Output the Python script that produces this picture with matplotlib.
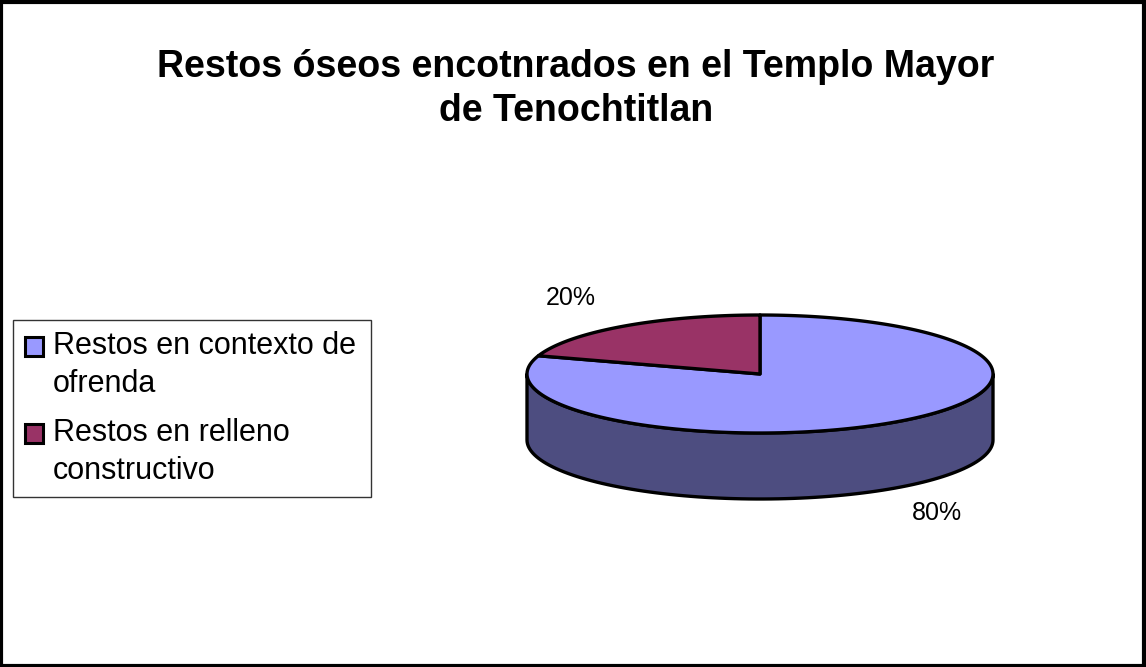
import matplotlib.pyplot as plt
import numpy as np
from matplotlib.patches import Polygon, Rectangle

title = "Restos óseos encotnrados en el Templo Mayor\nde Tenochtitlan"
labels = ["Restos en contexto de\nofrenda", "Restos en relleno\nconstructivo"]
values = [80, 20]
pct_labels = ["80%", "20%"]
top_colors = ["#9999FF", "#993366"]
side_colors = ["#4D4D80", "#4D1A33"]

plt.rcParams['font.family'] = ['Liberation Sans', 'DejaVu Sans']

fig = plt.figure(figsize=(11.46, 6.67), dpi=100)
ax = fig.add_axes([0, 0, 1, 1])
ax.set_xlim(0, 1146)
ax.set_ylim(667, 0)
ax.axis('off')

# pie geometry (pixels)
cx, cy = 760, 374
rx, ry = 233, 59
depth = 66


def ell(a):
	a = np.radians(a)
	return cx + rx * np.cos(a), cy - ry * np.sin(a)


# slices go clockwise from 12 o'clock, the last one (red) ends at 90 deg
fracs = np.array(values) / sum(values)
start = 90.0
angles = []
for f in fracs:
	end = start - 360 * f
	angles.append((end, start))
	start = end

# side walls: visible front part is angles 180..360
for (a0, a1), col in zip(angles, side_colors):
	for k in range(-1, 2):
		lo = max(a0, 180 + 360 * k)
		hi = min(a1, 360 + 360 * k)
		if hi <= lo:
			continue
		t = np.linspace(lo, hi, 100)
		xs, ys = ell(t)
		pts = np.concatenate([np.column_stack([xs, ys]),
			np.column_stack([xs[::-1], ys[::-1] + depth])])
		ax.add_patch(Polygon(pts, closed=True, facecolor=col,
			edgecolor='black', linewidth=2.4, joinstyle='round'))

# top faces
for (a0, a1), col in zip(angles, top_colors):
	t = np.linspace(a0, a1, 200)
	xs, ys = ell(t)
	pts = np.vstack([[cx, cy], np.column_stack([xs, ys])])
	ax.add_patch(Polygon(pts, closed=True, facecolor=col,
		edgecolor='black', linewidth=2.4, joinstyle='round'))

# percentage labels
ax.text(937, 513, pct_labels[0], fontsize=18, ha='center', va='center')
ax.text(571, 298, pct_labels[1], fontsize=18, ha='center', va='center')

ax.text(576, 89, title, fontsize=27, fontweight='bold', ha='center',
	va='center', linespacing=1.3)

# legend, drawn by hand so the key sits beside the first line of each label
ax.add_patch(Rectangle((13, 320), 358, 177, facecolor='white',
	edgecolor='#333333', linewidth=1.0))
baselines = [354, 441]
for lab, col, yb in zip(labels, top_colors, baselines):
	ax.add_patch(Rectangle((25, yb - 17), 18, 19, facecolor=col,
		edgecolor='black', linewidth=2.2))
	for i, line in enumerate(lab.split('\n')):
		ax.text(53, yb + 38 * i, line, fontsize=22, ha='left', va='baseline')

fig.add_artist(Rectangle((0.001, 0.002), 0.997, 0.995, transform=fig.transFigure,
	fill=False, edgecolor='black', linewidth=3))

fig.savefig('out.png', dpi=100)
